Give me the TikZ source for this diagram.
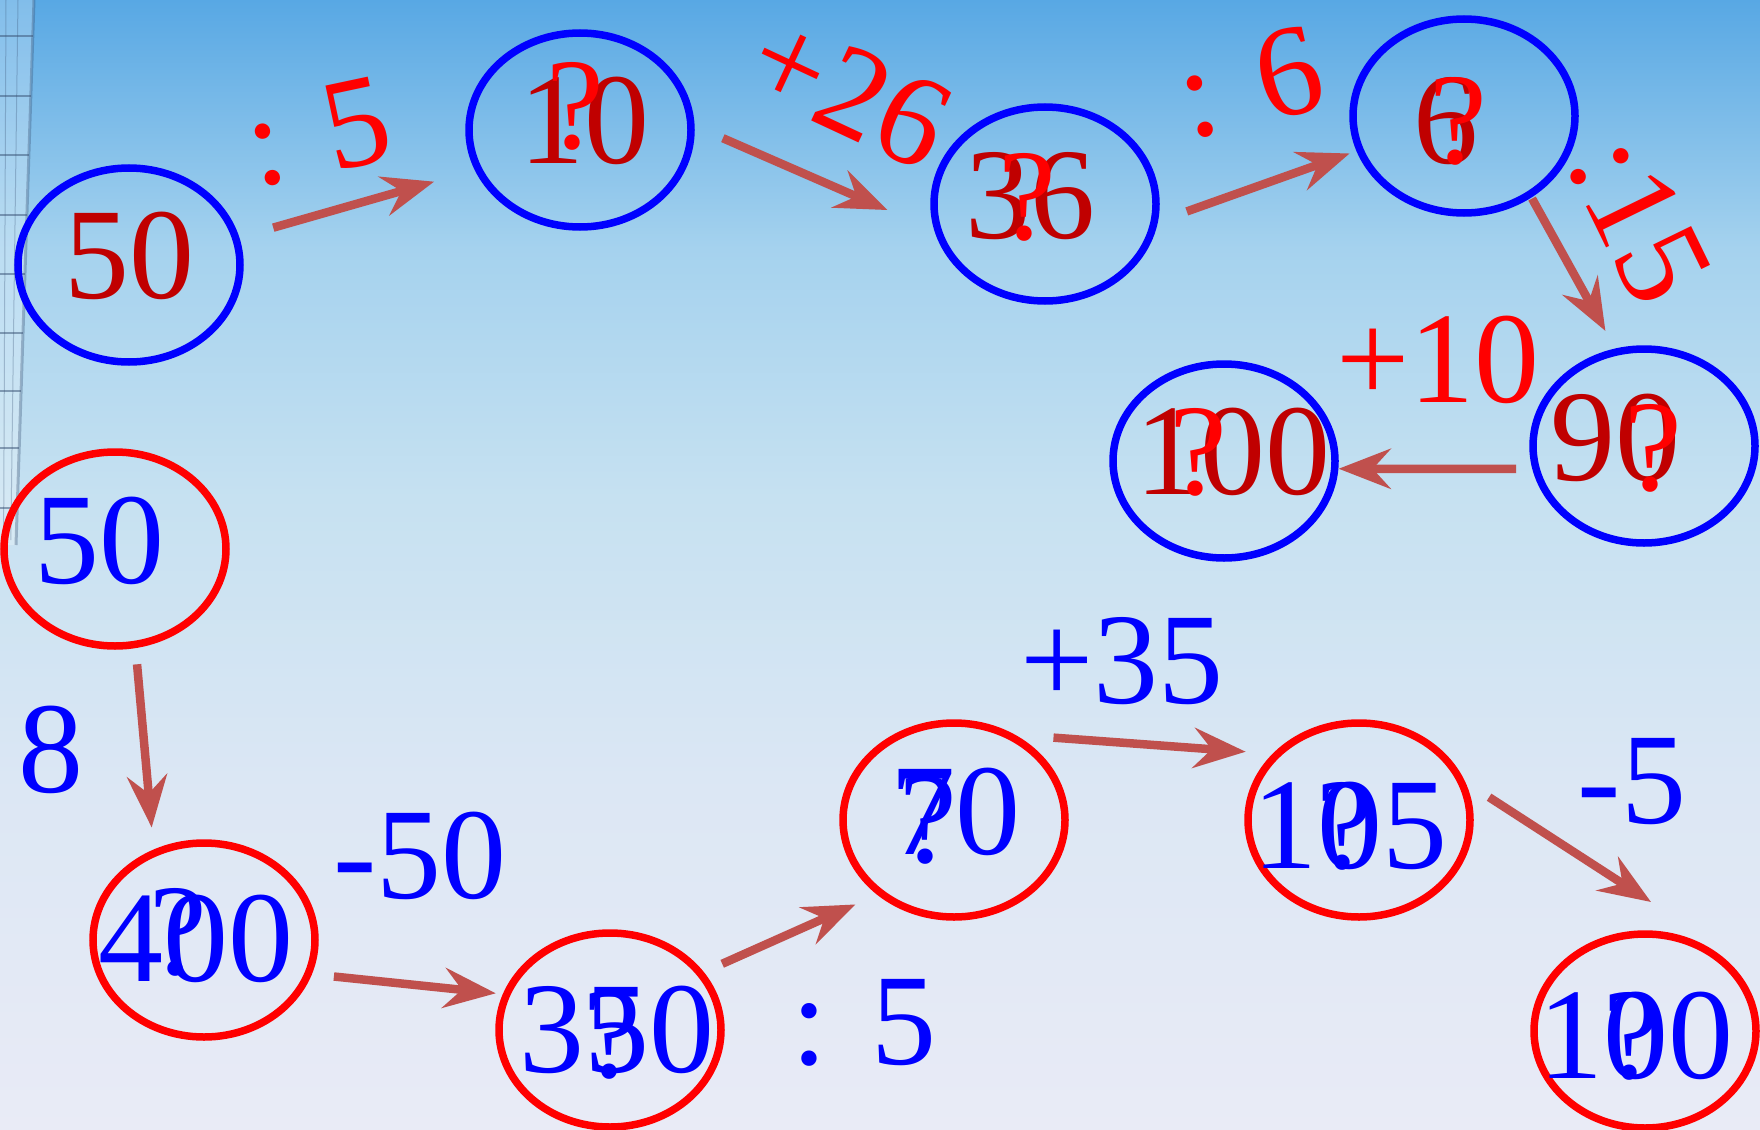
\documentclass[tikz,border=0pt]{standalone}
\usepackage{fontspec}
\setmainfont{Liberation Serif}
\usetikzlibrary{positioning,arrows.meta,shapes.geometric}

\definecolor{numred}{RGB}{192,0,0}
\definecolor{askred}{RGB}{255,0,0}
\definecolor{arrowred}{RGB}{192,80,77}
\definecolor{bgtop}{RGB}{88,168,228}
\definecolor{bghigh}{RGB}{165,210,238}
\definecolor{bgmid}{RGB}{198,225,241}
\definecolor{bglow}{RGB}{220,231,244}
\definecolor{bgbot}{RGB}{233,235,246}
\definecolor{strip}{RGB}{55,80,115}

\pgfdeclareverticalshading{sky}{100bp}{color(0bp)=(bgbot); color(25bp)=(bgbot);
  color(40bp)=(bglow); color(53bp)=(bgmid); color(64bp)=(bghigh);
  color(75bp)=(bgtop); color(100bp)=(bgtop)}

\begin{document}
\begin{tikzpicture}[
      x=1pt, y=-1pt,
      big/.style={font=\fontsize{130}{130}\selectfont, inner sep=0pt},
      topring/.style={ellipse, draw=blue, line width=7.5pt, minimum width=222pt,
                      minimum height=194pt, inner sep=0pt, outer sep=0pt},
      botring/.style={topring, draw=red},
      topnum/.style={big, text=numred},
      botnum/.style={big, text=blue},
      ask/.style={big, text=askred},
      arrow/.style={draw=arrowred, line width=8.5pt,
                    -{Stealth[length=52pt, width=40pt, inset=18pt]}}
    ]
    \useasboundingbox (0,0) rectangle (1760,1129);
    \shade[shading=sky] (0,0) rectangle (1760,1129);

    % window strip on the left edge
    \fill[white, opacity=.25] (0,0) -- (34,0) -- (16,545) -- (0,545) -- cycle;
    \foreach \yy in {36,96,155,215,274,333,391,448,508}
      \draw[strip, opacity=.5, line width=2.5pt] (0,\yy) -- ({34-\yy/30},\yy);
    \foreach \xx in {6,18}
      \draw[strip, opacity=.3, line width=1pt] (\xx,0) -- (\xx*.6,540);
    \draw[strip, opacity=.35, line width=3pt] (34,0) -- (16,545);

    % top chain
    \node[topring] (t1) at (129,265)  {};
    \node[topring] (t2) at (580,130)  {};
    \node[topring] (t3) at (1045,204) {};
    \node[topring] (t4) at (1464,116) {};
    \node[topring] (t5) at (1644,446) {};
    \node[topring] (t6) at (1224,461) {};

    \node[topnum] (t1n) at ([shift={(0,-9)}]t1)   {50};
    \node[topnum] (t2n) at ([shift={(4,-9)}]t2)   {10};
    \node[ask]    (t2q) at ([shift={(-5,-24)}]t2) {?};
    \node[topnum] (t3n) at ([shift={(-15,-8)}]t3) {36};
    \node[ask]    (t3q) at ([shift={(-18,-7)}]t3) {?};
    \node[topnum] (t4n) at ([shift={(-18,5)}]t4)  {6};
    \node[ask]    (t4q) at ([shift={(-6,5)}]t4)   {?};
    \node[topnum] (t5n) at ([shift={(-29,-8)}]t5) {90};
    \node[ask]    (t5q) at ([shift={(9,2)}]t5)    {?};
    \node[topnum] (t6n) at ([shift={(9,-9)}]t6)   {100};
    \node[ask]    (t6q) at ([shift={(-26,-9)}]t6) {?};

    \draw[arrow, shorten <=39pt, shorten >=46pt] (t1.14)  -- (t2.201);
    \draw[arrow, shorten <=35pt, shorten >=56pt] (t2.3)   -- (t3.195);
    \draw[arrow, shorten <=35pt, shorten >=11pt] (t3.350) -- (t4.198);
    \draw[arrow, shorten <=5pt,  shorten >=24pt] (t4.310) -- (t5.106);
    \draw[arrow, shorten <=20pt, shorten >=4pt]  (t5.192) -- (t6.356);

    \node[ask, rotate=12]  (op1) at (318,132)  {: 5};
    \node[ask, rotate=-25] (op2) at (850,92)   {+26};
    \node[ask, rotate=13]  (op3) at (1250,82)  {: 6};
    \node[ask, rotate=-64] (op4) at (1640,220) {:15};
    \node[ask]             (op5) at (1438,360) {+10};

    % bottom chain
    \node[botring] (b1) at (115,549)  {};
    \node[botring] (b2) at (204,940)  {};
    \node[botring] (b3) at (610,1030) {};
    \node[botring] (b4) at (954,820)  {};
    \node[botring] (b5) at (1359,820) {};
    \node[botring] (b6) at (1645,1031) {};

    \node[botnum] (b1n) at ([shift={(-16,-8)}]b1) {50};
    \node[botnum] (b2n) at ([shift={(-8,-1)}]b2)  {400};
    \node[botnum] (b2q) at ([shift={(-26,-8)}]b2) {?};
    \node[botnum] (b3n) at ([shift={(7,0)}]b3)    {350};
    \node[botnum] (b3q) at ([shift={(2,5)}]b3)    {?};
    \node[botnum] (b4n) at ([shift={(1,-8)}]b4)   {70};
    \node[botnum] (b4q) at ([shift={(-26,0)}]b4)  {?};
    \node[botnum] (b5n) at ([shift={(-9,6)}]b5)   {105};
    \node[botnum] (b5q) at ([shift={(-14,6)}]b5)  {?};
    \node[botnum] (b6n) at ([shift={(-9,5)}]b6)   {100};
    \node[botnum] (b6q) at ([shift={(-13,5)}]b6)  {?};

    \draw[arrow, shorten <=20pt, shorten >=26pt] (b1.282) -- (b2.120);
    \draw[arrow, shorten <=26pt, shorten >=11pt] (b2.342) -- (b3.161);
    \draw[arrow, shorten <=24pt, shorten >=28pt] (b3.32)  -- (b4.225);
    \draw[arrow, shorten <=48pt, shorten >=32pt] (b4.59)  -- (b5.141);
    \draw[arrow, shorten <=36pt] (b5.23) -- ([shift={(6,-32)}]b6.north);

    \node[botnum] (op6)  at (51,750)   {8};
    \node[botnum] (op7)  at (420,856)  {-50};
    \node[botnum] (op8)  at (864,1023) {: 5};
    \node[botnum] (op9)  at (1122,661) {+35};
    \node[botnum] (op10) at (1632,782) {-5};
  \end{tikzpicture}
\end{document}
